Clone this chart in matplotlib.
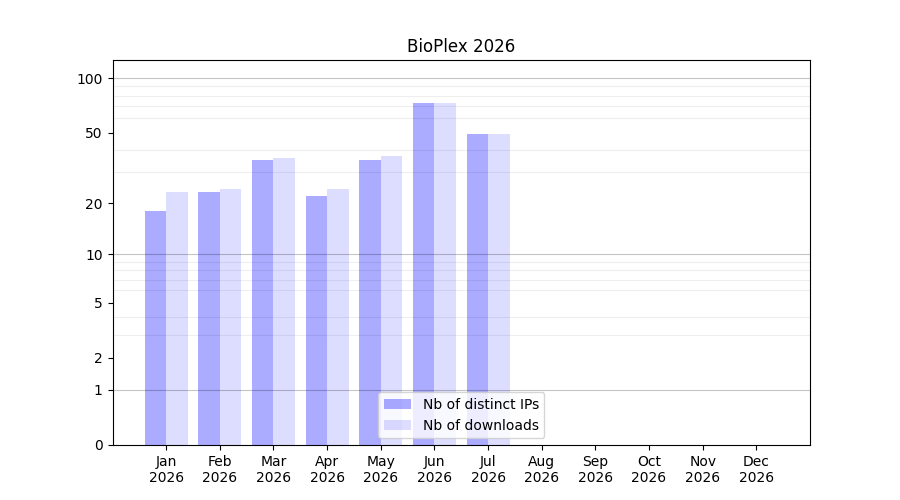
import numpy as np
import matplotlib
matplotlib.use("Agg")
import matplotlib.pyplot as plt

months = ["Jan", "Feb", "Mar", "Apr", "May", "Jun", "Jul", "Aug", "Sep", "Oct", "Nov", "Dec"]
year = "2026"
ips = [18, 23, 35, 22, 35, 73, 49, 0, 0, 0, 0, 0]
downloads = [23, 24, 36, 24, 37, 73, 49, 0, 0, 0, 0, 0]
ytick_vals = [0, 1, 2, 5, 10, 20, 50, 100]

fig, ax = plt.subplots(figsize=(9, 5), dpi=100)
x = np.arange(len(months))
w = 0.4
ax.bar(x, ips, width=-w, align="edge", color="blue", alpha=0.33, label="Nb of distinct IPs")
ax.bar(x, downloads, width=w, align="edge", color="blue", alpha=0.133, label="Nb of downloads")

ax.set_yscale("function", functions=(lambda v: np.log10(1 + np.clip(v, 0, None)),
                                      lambda v: 10 ** v - 1))
ax.set_ylim(0, 126)
ax.set_xlim(-1, 12)
ax.set_yticks(ytick_vals)
ax.set_yticklabels([str(v) for v in ytick_vals])
minor = [v * m for v in (1, 10) for m in range(2, 10)]
ax.set_yticks(minor, minor=True)
ax.tick_params(axis="y", which="minor", length=0)
ax.grid(False)
ax.yaxis.grid(True, which="minor", color="black", alpha=0.067, linewidth=0.8)
for v in (1, 10, 100):
    ax.axhline(v, color="black", alpha=0.23, linewidth=0.8, zorder=1.5)

ax.set_xticks(x)
ax.set_xticklabels([f"{m}\n{year}" for m in months])
ax.set_title("BioPlex 2026")
ax.legend(loc="lower center")
fig.savefig("out.png")
